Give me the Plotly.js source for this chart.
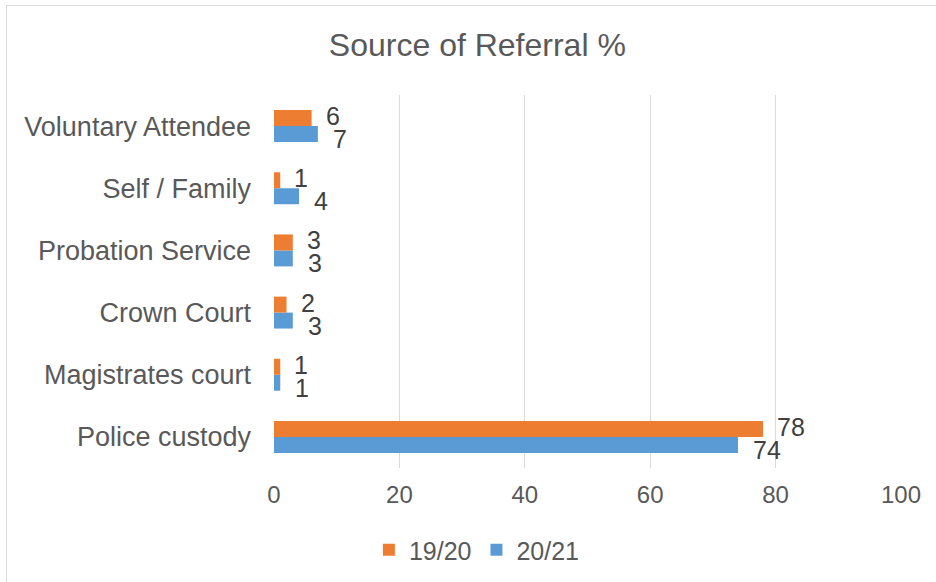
<!DOCTYPE html>
<html>
<head>
<meta charset="utf-8">
<script src="https://cdn.plot.ly/plotly-3.0.1.min.js"></script>
<style>
  html, body { margin: 0; padding: 0; background: #ffffff; overflow: hidden; }
  #chart { width: 936px; height: 582px; position: absolute; left: 0; top: 0; }
  #frame { position: absolute; left: 6px; top: 5px; width: 960px; height: 620px; border-left: 1px solid #d9d9d9; border-top: 1px solid #d9d9d9; pointer-events: none; }
</style>
</head>
<body>
<div id="chart"></div>
<div id="frame"></div>
<script>
const categories = ["Police custody", "Magistrates court", "Crown Court", "Probation Service", "Self / Family", "Voluntary Attendee"];
const values1920 = [78, 1, 2, 3, 1, 6];
const values2021 = [74, 1, 3, 3, 4, 7];
const seriesNames = ["19/20", "20/21"];
const xTicks = [0, 20, 40, 60, 80, 100];

const FONT = "Liberation Sans, Arial, sans-serif";
const LABEL_FONT = { family: FONT, size: 25, color: "#404040" };

const traceBlue = {
  type: "bar", orientation: "h", name: seriesNames[1],
  y: categories, x: values2021,
  marker: { color: "#5B9BD5" }, hoverinfo: "skip"
};
const traceOrange = {
  type: "bar", orientation: "h", name: seriesNames[0],
  y: categories, x: values1920,
  marker: { color: "#ED7D31" }, hoverinfo: "skip"
};

const annotations = [];
categories.forEach((c, i) => {
  annotations.push({
    x: values1920[i], y: c, xref: "x", yref: "y",
    text: String(values1920[i]), showarrow: false,
    xanchor: "left", yanchor: "middle", xshift: 12, yshift: 10,
    font: LABEL_FONT
  });
  annotations.push({
    x: values2021[i], y: c, xref: "x", yref: "y",
    text: String(values2021[i]), showarrow: false,
    xanchor: "left", yanchor: "middle", xshift: 13, yshift: -13,
    font: LABEL_FONT
  });
});

const layout = {
  width: 936, height: 582,
  paper_bgcolor: "rgba(0,0,0,0)", plot_bgcolor: "#ffffff",
  margin: { l: 274, r: 35, t: 95, b: 114 },
  font: { family: FONT, color: "#595959", size: 25 },
  title: {
    text: "Source of Referral %",
    font: { family: FONT, size: 32, color: "#595959" },
    xref: "container", x: 0.51, xanchor: "center",
    yref: "container", y: 1 - 45 / 582, yanchor: "middle"
  },
  barmode: "group", bargap: 0.486, bargroupgap: 0,
  xaxis: {
    range: [0, 100], tickvals: xTicks, ticktext: xTicks.map(String),
    showgrid: true, gridcolor: "#d9d9d9", gridwidth: 1.3,
    zeroline: false, showline: false, ticks: "",
    ticklabelstandoff: 10,
    tickfont: { family: FONT, size: 24, color: "#595959" },
    fixedrange: true
  },
  yaxis: {
    type: "category", categoryorder: "array", categoryarray: categories,
    showgrid: false, zeroline: false, showline: false, ticks: "",
    ticklabelstandoff: 22,
    tickfont: { family: FONT, size: 27, color: "#595959" },
    fixedrange: true
  },
  annotations: annotations,
  showlegend: true,
  legend: {
    orientation: "h", traceorder: "reversed",
    xref: "container", x: 0.5095, xanchor: "center",
    yref: "container", y: 1 - 550 / 582, yanchor: "middle",
    font: { family: FONT, size: 25, color: "#595959" },
    itemwidth: 30
  }
};

Plotly.newPlot("chart", [traceBlue, traceOrange], layout, { displayModeBar: false, staticPlot: true });
</script>
</body>
</html>
